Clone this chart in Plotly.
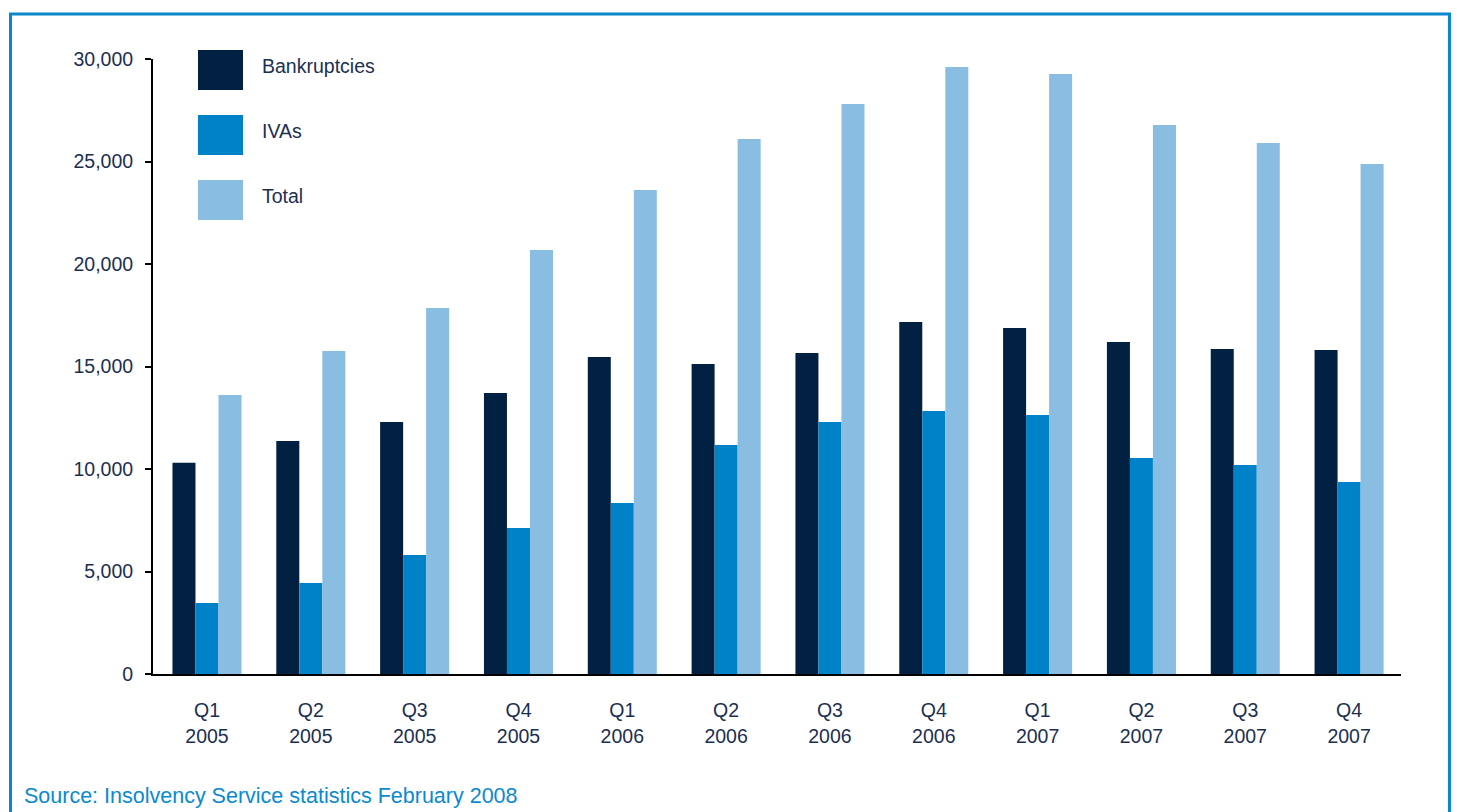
import plotly.graph_objects as go

quarters = ["Q1<br>2005", "Q2<br>2005", "Q3<br>2005", "Q4<br>2005",
            "Q1<br>2006", "Q2<br>2006", "Q3<br>2006", "Q4<br>2006",
            "Q1<br>2007", "Q2<br>2007", "Q3<br>2007", "Q4<br>2007"]
bankruptcies = [10300, 11370, 12290, 13710, 15460, 15120, 15660, 17170, 16880, 16200, 15850, 15800]
ivas = [3460, 4440, 5800, 7120, 8340, 11170, 12290, 12830, 12630, 10540, 10200, 9370]
total = [13610, 15760, 17850, 20680, 23610, 26100, 27800, 29610, 29270, 26780, 25900, 24880]

series_names = ["Bankruptcies", "IVAs", "Total"]
series_colors = ["#022142", "#0082c8", "#89bde2"]
series_values = [bankruptcies, ivas, total]

y_ticks = [0, 5000, 10000, 15000, 20000, 25000, 30000]
y_ticktext = ["0", "5,000", "10,000", "15,000", "20,000", "25,000", "30,000"]

W, H = 1457, 812
L, R, T, B = 153, 56, 59, 138
PW = W - L - R
PH = H - T - B


def px(x):
    return (x - L) / PW


def py(y):
    return (H - B - y) / PH


TEXT = "#1b2f52"
FONT = "Liberation Sans, Arial, Helvetica, sans-serif"

fig = go.Figure()
xs = list(range(len(quarters)))
for name, color, vals in zip(series_names, series_colors, series_values):
    fig.add_trace(go.Bar(x=xs, y=vals, name=name, marker_color=color,
                         marker_line_width=0, showlegend=False))

shapes = []
annotations = []
# frame
shapes.append(dict(type="path", xref="paper", yref="paper",
                   path=f"M {px(10.5)} {py(850)} L {px(10.5)} {py(14)} L {px(1449.5)} {py(14)} L {px(1449.5)} {py(850)}",
                   line=dict(color="#0a88cc", width=3), layer="above"))
# manual legend
leg_y = [(50, 90), (115, 155), (180, 220)]
for (y0, y1), name, color in zip(leg_y, series_names, series_colors):
    shapes.append(dict(type="rect", xref="paper", yref="paper",
                       x0=px(198), x1=px(243), y0=py(y1), y1=py(y0),
                       fillcolor=color, line=dict(width=0)))
    annotations.append(dict(xref="paper", yref="paper", x=px(260), y=py((y0 + y1) / 2 - 4),
                            text=name, showarrow=False, xanchor="left", yanchor="middle",
                            font=dict(family=FONT, size=19.5, color=TEXT)))
annotations.append(dict(xref="paper", yref="paper", x=px(22), y=py(796),
                        text="Source: Insolvency Service statistics February 2008",
                        showarrow=False, xanchor="left", yanchor="middle",
                        font=dict(family=FONT, size=21.5, color="#0a8ad0")))

fig.update_layout(
    width=W, height=H,
    margin=dict(l=L, r=R, t=T, b=B, pad=0),
    paper_bgcolor="white", plot_bgcolor="white",
    barmode="group", bargap=0.335, bargroupgap=0,
    font=dict(family=FONT, size=19.5, color=TEXT),
    shapes=shapes, annotations=annotations,
    xaxis=dict(tickmode="array", tickvals=xs, ticktext=quarters,
               range=[-0.52, 11.5], showgrid=False, zeroline=False,
               showline=True, linecolor="black", linewidth=2, ticks="",
               ticklabelstandoff=18,
               tickfont=dict(family=FONT, size=19.5, color=TEXT)),
    yaxis=dict(range=[0, 30000], tickmode="array", tickvals=y_ticks, ticktext=y_ticktext,
               showgrid=False, zeroline=False, showline=True, linecolor="black",
               linewidth=2, ticks="outside", ticklen=6, tickwidth=2, tickcolor="black",
               ticklabelstandoff=8,
               tickfont=dict(family=FONT, size=19.5, color=TEXT)),
)

fig.write_html("out.html")
